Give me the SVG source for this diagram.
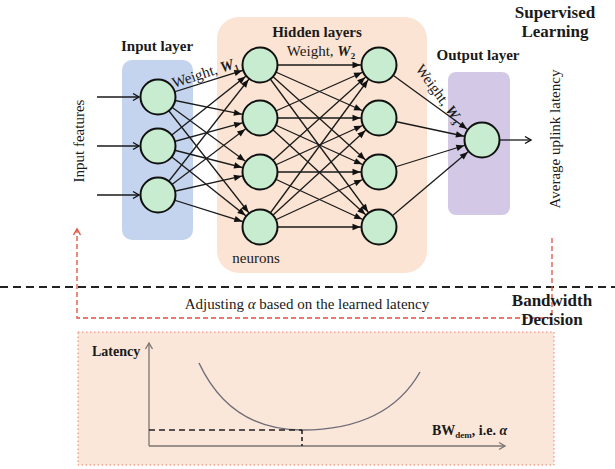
<svg xmlns="http://www.w3.org/2000/svg" width="615" height="469" viewBox="0 0 615 469">
<style>
.t{font-family:"Liberation Serif","Times New Roman",serif;fill:#1a1a1a}
.b{font-weight:bold}
.node{fill:#c8ecd0;stroke:#111;stroke-width:2}
.conn line{stroke:#1a1a1a;stroke-width:1.3}
.red{fill:none;stroke:#e2503f;stroke-width:1.3;stroke-dasharray:5 3}
</style>
<defs>
<marker id="ah" markerUnits="userSpaceOnUse" orient="auto" refX="18.5" refY="0" markerWidth="30" markerHeight="12" overflow="visible">
<path d="M-8,-3.2 L0,0 L-8,3.2 z" fill="#111"/>
</marker>
<marker id="oa" markerUnits="userSpaceOnUse" orient="auto" refX="0" refY="0" markerWidth="12" markerHeight="12" overflow="visible">
<path d="M-6,-3.5 L0,0 L-6,3.5" fill="none" stroke="#111" stroke-width="1.4"/>
</marker>
<marker id="ra" markerUnits="userSpaceOnUse" orient="auto" refX="0" refY="0" markerWidth="12" markerHeight="12" overflow="visible">
<path d="M-6,-3.5 L0,0 L-6,3.5" fill="none" stroke="#e2503f" stroke-width="1.4"/>
</marker>
<marker id="ga" markerUnits="userSpaceOnUse" orient="auto" refX="0" refY="0" markerWidth="12" markerHeight="12" overflow="visible">
<path d="M-6,-3.5 L0,0 L-6,3.5" fill="none" stroke="#7a7470" stroke-width="1.3"/>
</marker>
</defs>
<rect width="615" height="469" fill="#fff"/>

<!-- layer boxes -->
<g id="hidden-box"><rect x="217" y="17" width="210" height="256" rx="22" fill="#fbe4d3"/></g>
<g id="input-box"><rect x="122" y="60" width="71" height="180" rx="10" fill="#c4d4ee"/></g>
<g id="output-box"><rect x="448" y="72" width="62" height="143" rx="8" fill="#d3c9e6"/></g>

<!-- connectors -->
<g id="connectors" class="conn">
<line x1="97" y1="97" x2="139" y2="97" marker-end="url(#oa)"/>
<line x1="97" y1="146" x2="139" y2="146" marker-end="url(#oa)"/>
<line x1="97" y1="195" x2="139" y2="195" marker-end="url(#oa)"/>

<line x1="158" y1="97" x2="260" y2="65" marker-end="url(#ah)"/>
<line x1="158" y1="97" x2="260" y2="118" marker-end="url(#ah)"/>
<line x1="158" y1="97" x2="260" y2="172" marker-end="url(#ah)"/>
<line x1="158" y1="97" x2="260" y2="227" marker-end="url(#ah)"/>
<line x1="158" y1="146" x2="260" y2="65" marker-end="url(#ah)"/>
<line x1="158" y1="146" x2="260" y2="118" marker-end="url(#ah)"/>
<line x1="158" y1="146" x2="260" y2="172" marker-end="url(#ah)"/>
<line x1="158" y1="146" x2="260" y2="227" marker-end="url(#ah)"/>
<line x1="158" y1="195" x2="260" y2="65" marker-end="url(#ah)"/>
<line x1="158" y1="195" x2="260" y2="118" marker-end="url(#ah)"/>
<line x1="158" y1="195" x2="260" y2="172" marker-end="url(#ah)"/>
<line x1="158" y1="195" x2="260" y2="227" marker-end="url(#ah)"/>

<line x1="260" y1="65" x2="379" y2="65" marker-end="url(#ah)"/>
<line x1="260" y1="65" x2="379" y2="118" marker-end="url(#ah)"/>
<line x1="260" y1="65" x2="379" y2="172" marker-end="url(#ah)"/>
<line x1="260" y1="65" x2="379" y2="227" marker-end="url(#ah)"/>
<line x1="260" y1="118" x2="379" y2="65" marker-end="url(#ah)"/>
<line x1="260" y1="118" x2="379" y2="118" marker-end="url(#ah)"/>
<line x1="260" y1="118" x2="379" y2="172" marker-end="url(#ah)"/>
<line x1="260" y1="118" x2="379" y2="227" marker-end="url(#ah)"/>
<line x1="260" y1="172" x2="379" y2="65" marker-end="url(#ah)"/>
<line x1="260" y1="172" x2="379" y2="118" marker-end="url(#ah)"/>
<line x1="260" y1="172" x2="379" y2="172" marker-end="url(#ah)"/>
<line x1="260" y1="172" x2="379" y2="227" marker-end="url(#ah)"/>
<line x1="260" y1="227" x2="379" y2="65" marker-end="url(#ah)"/>
<line x1="260" y1="227" x2="379" y2="118" marker-end="url(#ah)"/>
<line x1="260" y1="227" x2="379" y2="172" marker-end="url(#ah)"/>
<line x1="260" y1="227" x2="379" y2="227" marker-end="url(#ah)"/>

<line x1="379" y1="65" x2="482" y2="140" marker-end="url(#ah)"/>
<line x1="379" y1="118" x2="482" y2="140" marker-end="url(#ah)"/>
<line x1="379" y1="172" x2="482" y2="140" marker-end="url(#ah)"/>
<line x1="379" y1="227" x2="482" y2="140" marker-end="url(#ah)"/>

<line x1="500" y1="140" x2="531" y2="140" marker-end="url(#oa)"/>
</g>

<!-- nodes -->
<g id="in1"><circle class="node" cx="158" cy="97" r="17.5"/></g>
<g id="in2"><circle class="node" cx="158" cy="146" r="17.5"/></g>
<g id="in3"><circle class="node" cx="158" cy="195" r="17.5"/></g>
<g id="h1-1"><circle class="node" cx="260" cy="65" r="17.5"/></g>
<g id="h1-2"><circle class="node" cx="260" cy="118" r="17.5"/></g>
<g id="h1-3"><circle class="node" cx="260" cy="172" r="17.5"/></g>
<g id="h1-4"><circle class="node" cx="260" cy="227" r="17.5"/></g>
<g id="h2-1"><circle class="node" cx="379" cy="65" r="17.5"/></g>
<g id="h2-2"><circle class="node" cx="379" cy="118" r="17.5"/></g>
<g id="h2-3"><circle class="node" cx="379" cy="172" r="17.5"/></g>
<g id="h2-4"><circle class="node" cx="379" cy="227" r="17.5"/></g>
<g id="out"><circle class="node" cx="482" cy="140" r="17.5"/></g>

<!-- labels -->
<g id="labels">
<text class="t b" x="157" y="51" font-size="15" text-anchor="middle">Input layer</text>
<text class="t b" x="317" y="37" font-size="15" text-anchor="middle">Hidden layers</text>
<text class="t" x="321" y="56" font-size="15" text-anchor="middle">Weight, <tspan font-weight="bold" font-style="italic">W</tspan><tspan font-size="9" font-weight="bold" dy="3">2</tspan></text>
<text class="t" x="174" y="88" font-size="15" transform="rotate(-18 174 88)">Weight, <tspan font-weight="bold" font-style="italic">W</tspan><tspan font-size="9" font-weight="bold" dy="3">1</tspan></text>
<text class="t" x="415" y="69" font-size="15" transform="rotate(54 415 69)">Weight, <tspan font-weight="bold" font-style="italic">W</tspan><tspan font-size="9" font-weight="bold" dy="3">3</tspan></text>
<text class="t b" x="478" y="60" font-size="15" text-anchor="middle">Output layer</text>
<text class="t b" x="555" y="18" font-size="17" text-anchor="middle">Supervised</text>
<text class="t b" x="555" y="37" font-size="17" text-anchor="middle">Learning</text>
<text class="t" x="256" y="263" font-size="15" text-anchor="middle">neurons</text>
<text class="t" x="84" y="141" font-size="15" text-anchor="middle" transform="rotate(-90 84 141)">Input features</text>
<text class="t" x="560" y="139" font-size="15" text-anchor="middle" transform="rotate(-90 560 139)">Average uplink latency</text>
</g>

<!-- separator -->
<line x1="0" y1="287" x2="615" y2="287" stroke="#222" stroke-width="2" stroke-dasharray="8 5"/>

<!-- feedback loop -->
<g id="feedback">
<path class="red" d="M552,238 L552,318 L77,318 L77,229" marker-end="url(#ra)"/>
<text class="t" x="307" y="309" font-size="15" text-anchor="middle">Adjusting <tspan font-style="italic">α</tspan> based on the learned latency</text>
<text class="t b" x="552" y="306" font-size="17" text-anchor="middle">Bandwidth</text>
<text class="t b" x="552" y="325" font-size="17" text-anchor="middle">Decision</text>
</g>

<!-- bandwidth decision panel -->
<g id="latency-chart">
<rect x="78" y="332" width="476" height="133" fill="#fbe7d9" stroke="#e8806f" stroke-width="1" stroke-dasharray="1.5 2.5"/>
<line x1="149" y1="446" x2="149" y2="343" stroke="#7a7470" stroke-width="1.3" marker-end="url(#ga)"/>
<line x1="149" y1="446" x2="505" y2="446" stroke="#7a7470" stroke-width="1.3" marker-end="url(#ga)"/>
<path d="M199,363 C222,412 258,430 302,430 C350,430 395,416 420,372" fill="none" stroke="#6e6c78" stroke-width="1.4"/>
<line x1="149" y1="430" x2="302" y2="430" stroke="#222" stroke-width="1.6" stroke-dasharray="6 4"/>
<line x1="302" y1="430" x2="302" y2="446" stroke="#222" stroke-width="1.6" stroke-dasharray="4 3"/>
<text class="t b" x="92" y="356" font-size="14">Latency</text>
<text class="t b" x="432" y="435" font-size="14">BW<tspan font-size="9" dy="3">dem</tspan><tspan dy="-3">, i.e. </tspan><tspan font-style="italic">α</tspan></text>
</g>
</svg>
